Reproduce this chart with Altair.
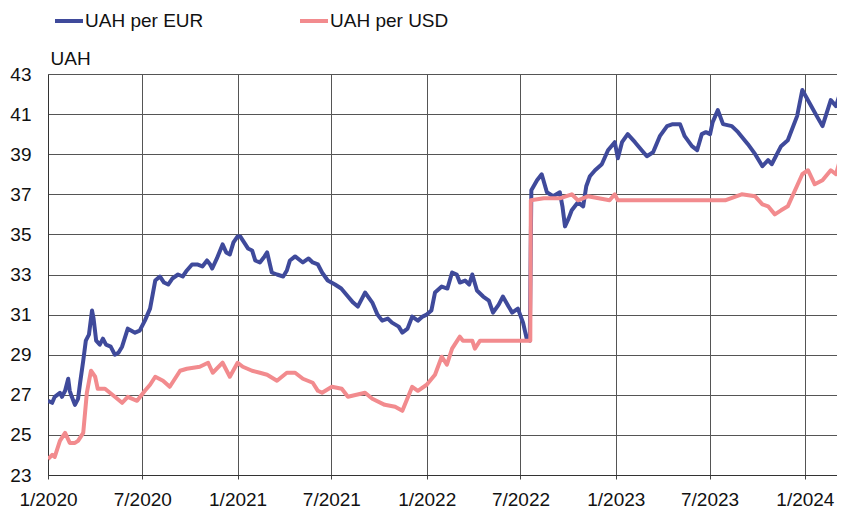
import altair as alt
import pandas as pd

series_names = ["UAH per EUR", "UAH per USD"]
series_colors = ["#3f4a9b", "#f28b8e"]

eur_dates = [
    "2020-01-01", "2020-01-09", "2020-01-14", "2020-01-24", "2020-01-28", "2020-02-03",
    "2020-02-09", "2020-02-12", "2020-02-16", "2020-02-22", "2020-02-28", "2020-03-03",
    "2020-03-09", "2020-03-14", "2020-03-20", "2020-03-26", "2020-03-29", "2020-04-03",
    "2020-04-10", "2020-04-16", "2020-04-22", "2020-05-01", "2020-05-09", "2020-05-16",
    "2020-05-23", "2020-06-03", "2020-06-10", "2020-06-17", "2020-06-26", "2020-07-06",
    "2020-07-16", "2020-07-21", "2020-07-26", "2020-08-04", "2020-08-12", "2020-08-20",
    "2020-08-28", "2020-09-08", "2020-09-17", "2020-09-25", "2020-10-05", "2020-10-15",
    "2020-10-25", "2020-11-03", "2020-11-09", "2020-11-13", "2020-11-22", "2020-12-03",
    "2020-12-10", "2020-12-17", "2020-12-24", "2021-01-01", "2021-01-06", "2021-01-11",
    "2021-01-21", "2021-01-29", "2021-02-04", "2021-02-13", "2021-02-22", "2021-02-27",
    "2021-03-08", "2021-03-18", "2021-03-30", "2021-04-06", "2021-04-12", "2021-04-22",
    "2021-05-07", "2021-05-18", "2021-05-26", "2021-06-05", "2021-06-13", "2021-06-24",
    "2021-07-08", "2021-07-20", "2021-08-02", "2021-08-12", "2021-08-21", "2021-09-04",
    "2021-09-18", "2021-09-28", "2021-10-07", "2021-10-18", "2021-10-26", "2021-11-08",
    "2021-11-15", "2021-11-25", "2021-12-04", "2021-12-15", "2021-12-24", "2022-01-01",
    "2022-01-10", "2022-01-17", "2022-01-30", "2022-02-10", "2022-02-19", "2022-02-28",
    "2022-03-06", "2022-03-16", "2022-03-24", "2022-03-30", "2022-04-08", "2022-04-20",
    "2022-05-01", "2022-05-09", "2022-05-20", "2022-05-28", "2022-06-08", "2022-06-15",
    "2022-06-26", "2022-07-06", "2022-07-13", "2022-07-19", "2022-07-22", "2022-08-02",
    "2022-08-11", "2022-08-21", "2022-09-02", "2022-09-15", "2022-09-20", "2022-09-25",
    "2022-10-02", "2022-10-08", "2022-10-20", "2022-10-30", "2022-11-05", "2022-11-12",
    "2022-11-22", "2022-12-05", "2022-12-17", "2022-12-30", "2023-01-05", "2023-01-13",
    "2023-01-24", "2023-02-07", "2023-02-20", "2023-03-02", "2023-03-14", "2023-03-27",
    "2023-04-10", "2023-04-21", "2023-05-05", "2023-05-14", "2023-05-28", "2023-06-07",
    "2023-06-16", "2023-06-24", "2023-07-02", "2023-07-07", "2023-07-17", "2023-07-27",
    "2023-08-13", "2023-08-25", "2023-09-13", "2023-09-27", "2023-10-11", "2023-10-22",
    "2023-10-29", "2023-11-16", "2023-11-29", "2023-12-17", "2023-12-27", "2024-01-11",
    "2024-01-24", "2024-02-04", "2024-02-20", "2024-03-01", "2024-03-12", "2024-03-18",
]
eur_values = [
    26.7, 26.6, 26.9, 27.1, 26.9, 27.2,
    27.8, 27.2, 26.9, 26.5, 26.8, 27.6,
    28.7, 29.7, 30.0, 31.2, 30.8, 29.7,
    29.5, 29.8, 29.5, 29.4, 29.0, 29.1,
    29.4, 30.3, 30.2, 30.1, 30.2, 30.7,
    31.3, 32.0, 32.7, 32.9, 32.6, 32.5,
    32.8, 33.0, 32.9, 33.2, 33.5, 33.5,
    33.4, 33.7, 33.5, 33.3, 33.8, 34.5,
    34.1, 34.0, 34.6, 34.9, 34.9, 34.7,
    34.3, 34.2, 33.7, 33.6, 33.9, 34.1,
    33.1, 33.0, 32.9, 33.2, 33.7, 33.9,
    33.6, 33.8, 33.6, 33.5, 33.1, 32.7,
    32.5, 32.3, 31.9, 31.6, 31.4, 32.1,
    31.6, 31.0, 30.7, 30.8, 30.6, 30.4,
    30.1, 30.3, 30.9, 30.7, 30.9, 31.0,
    31.2, 32.1, 32.4, 32.3, 33.1, 33.0,
    32.6, 32.7, 32.5, 33.0, 32.2, 31.9,
    31.7, 31.1, 31.5, 31.9, 31.4, 31.1,
    31.3, 30.6, 29.8, 29.7, 37.2, 37.7,
    38.0, 37.1, 36.9, 37.1, 36.4, 35.4,
    35.8, 36.2, 36.6, 36.4, 37.4, 37.9,
    38.2, 38.5, 39.2, 39.6, 38.8, 39.6,
    40.0, 39.6, 39.2, 38.9, 39.1, 39.9,
    40.4, 40.5, 40.5, 39.9, 39.4, 39.2,
    40.0, 40.1, 40.0, 40.6, 41.2, 40.5,
    40.4, 40.1, 39.5, 39.0, 38.4, 38.7,
    38.5, 39.4, 39.7, 40.9, 42.2, 41.5,
    40.9, 40.4, 41.7, 41.4, 42.3, 42.5,
]

usd_dates = [
    "2020-01-01", "2020-01-09", "2020-01-14", "2020-01-24", "2020-02-03", "2020-02-12",
    "2020-02-22", "2020-02-28", "2020-03-09", "2020-03-16", "2020-03-24", "2020-04-01",
    "2020-04-06", "2020-04-20", "2020-05-09", "2020-05-23", "2020-06-03", "2020-06-21",
    "2020-07-06", "2020-07-16", "2020-07-26", "2020-08-10", "2020-08-23", "2020-09-12",
    "2020-09-25", "2020-10-20", "2020-11-05", "2020-11-14", "2020-12-03", "2020-12-17",
    "2021-01-01", "2021-01-11", "2021-01-29", "2021-02-13", "2021-02-27", "2021-03-18",
    "2021-04-06", "2021-04-22", "2021-05-07", "2021-05-26", "2021-06-05", "2021-06-13",
    "2021-07-02", "2021-07-21", "2021-08-02", "2021-09-04", "2021-09-18", "2021-10-12",
    "2021-11-01", "2021-11-15", "2021-12-04", "2021-12-15", "2022-01-01", "2022-01-17",
    "2022-01-30", "2022-02-09", "2022-02-19", "2022-02-24", "2022-03-06", "2022-03-12",
    "2022-03-30", "2022-04-04", "2022-04-14", "2022-07-20", "2022-07-21", "2022-08-15",
    "2022-09-15", "2022-10-08", "2022-10-20", "2022-11-08", "2022-12-20", "2022-12-30",
    "2023-01-05", "2023-07-31", "2023-09-01", "2023-09-27", "2023-10-11", "2023-10-22",
    "2023-11-04", "2023-11-16", "2023-11-29", "2023-12-13", "2023-12-27", "2024-01-07",
    "2024-01-20", "2024-02-04", "2024-02-20", "2024-03-01", "2024-03-12", "2024-03-18",
]
usd_values = [
    23.8, 24.0, 23.9, 24.7, 25.1, 24.6,
    24.6, 24.7, 25.1, 27.1, 28.2, 27.9,
    27.3, 27.3, 26.9, 26.6, 26.9, 26.7,
    27.2, 27.5, 27.9, 27.7, 27.4, 28.2,
    28.3, 28.4, 28.6, 28.1, 28.6, 27.9,
    28.6, 28.4, 28.2, 28.1, 28.0, 27.7,
    28.1, 28.1, 27.8, 27.6, 27.2, 27.1,
    27.4, 27.3, 26.9, 27.1, 26.8, 26.5,
    26.4, 26.2, 27.4, 27.2, 27.5, 28.0,
    28.9, 28.5, 29.3, 29.5, 29.9, 29.7,
    29.7, 29.3, 29.7, 29.7, 36.7, 36.8,
    36.8, 37.0, 36.7, 36.9, 36.7, 37.0,
    36.7, 36.7, 37.0, 36.9, 36.5, 36.4,
    36.0, 36.2, 36.4, 37.2, 38.0, 38.2,
    37.5, 37.7, 38.2, 38.0, 39.0, 39.3,
]

y_ticks = [23, 25, 27, 29, 31, 33, 35, 37, 39, 41, 43]
x_tick_months = [(2020, 1), (2020, 7), (2021, 1), (2021, 7), (2022, 1),
                 (2022, 7), (2023, 1), (2023, 7), (2024, 1)]

df = pd.concat([
    pd.DataFrame({"date": eur_dates, "value": eur_values, "series": series_names[0]}),
    pd.DataFrame({"date": usd_dates, "value": usd_values, "series": series_names[1]}),
])

FONT = "Liberation Sans"

chart = alt.Chart(df).mark_line(strokeWidth=4, strokeJoin="round", clip=True).encode(
    x=alt.X(
        "date:T",
        scale=alt.Scale(
            type="utc",
            domain=[alt.DateTime(year=2020, month=1, date=1, utc=True),
                    alt.DateTime(year=2024, month=3, date=3, utc=True)],
        ),
        axis=alt.Axis(
            values=[alt.DateTime(year=y, month=m, date=1, utc=True) for y, m in x_tick_months],
            labelExpr="(utcmonth(datum.value) + 1) + '/' + utcyear(datum.value)",
            title=None,
            labelFontSize=19,
            labelColor="#111",
            labelPadding=11,
            tickSize=4,
            tickColor="#444",
            domainColor="#333",
            gridColor="#555",
            labelFlush=False,
        ),
    ),
    y=alt.Y(
        "value:Q",
        scale=alt.Scale(domain=[23, 43], nice=False, zero=False),
        axis=alt.Axis(
            values=y_ticks,
            title="UAH",
            titleAngle=0,
            titleAlign="left",
            titleBaseline="alphabetic",
            titleX=2,
            titleY=-10,
            titleFontSize=19,
            titleFontWeight="normal",
            titleColor="#111",
            labelFontSize=19,
            labelColor="#111",
            labelPadding=17,
            ticks=False,
            domainColor="#333",
            gridColor="#555",
        ),
    ),
    color=alt.Color(
        "series:N",
        scale=alt.Scale(domain=series_names, range=series_colors),
        legend=alt.Legend(
            title=None,
            orient="none",
            direction="horizontal",
            legendX=5,
            legendY=-69,
            symbolType="stroke",
            symbolSize=784,
            symbolStrokeWidth=4,
            labelFontSize=19,
            labelColor="#111",
            labelOffset=0,
            columnPadding=88,
            padding=0,
        ),
    ),
).properties(
    width=789,
    height=401,
    autosize=alt.AutoSizeParams(type="none"),
    padding={"left": 40, "top": 66, "right": 0, "bottom": 40},
).configure(
    font=FONT,
).configure_view(
    stroke=None,
).configure_axis(
    gridWidth=1,
    labelFont=FONT,
    titleFont=FONT,
)

chart.save("out.html", embed_options={"renderer": "svg", "actions": False})
